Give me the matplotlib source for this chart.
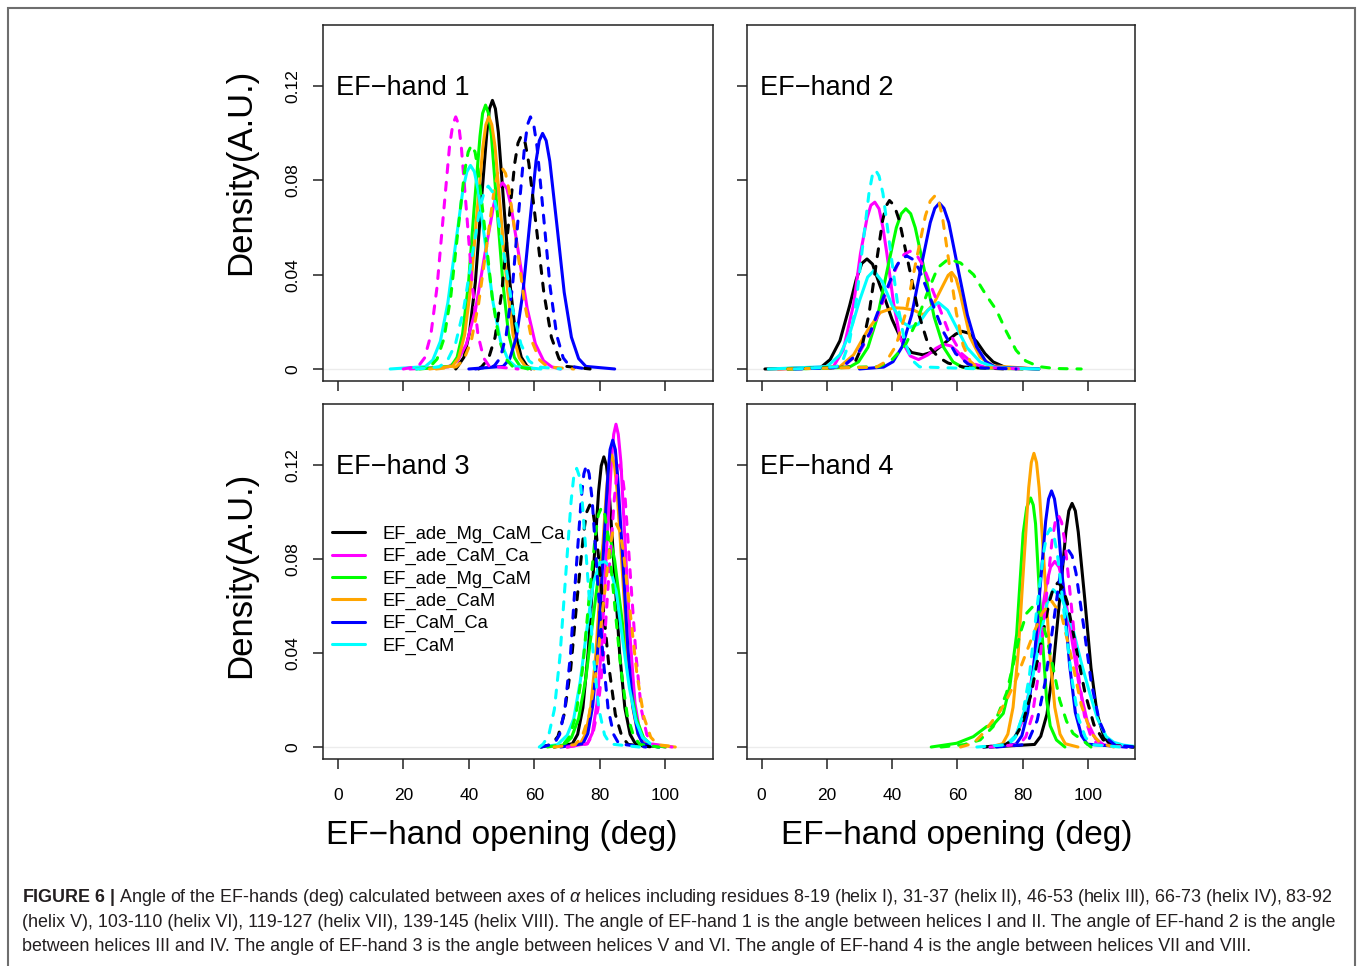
import matplotlib
matplotlib.use("Agg")
import matplotlib.pyplot as plt
from matplotlib.patches import Rectangle

plt.rcParams['font.family'] = ['Liberation Sans', 'DejaVu Sans']
plt.rcParams['mathtext.fontset'] = 'custom'
plt.rcParams['mathtext.rm'] = 'Liberation Sans'
plt.rcParams['mathtext.bf'] = 'Liberation Sans:bold'
plt.rcParams['mathtext.it'] = 'Liberation Sans:italic'

# series order: legend names and R colours
series = ["EF_ade_Mg_CaM_Ca", "EF_ade_CaM_Ca", "EF_ade_Mg_CaM", "EF_ade_CaM", "EF_CaM_Ca", "EF_CaM"]
colors = ["black", "#ff00ff", "#00ff00", "#ffa500", "#0000ff", "#00ffff"]

xticks = [0, 20, 40, 60, 80, 100]
yticks = [0, 0.04, 0.08, 0.12]
ytick_labels = ["0", "0.04", "0.08", "0.12"]
titles = ["EF\u2212hand 1", "EF\u2212hand 2", "EF\u2212hand 3", "EF\u2212hand 4"]

# ---- EF-hand 1: density curves (angle in deg, density) ----
h1_solid_x = [
    [36, 36.7, 38.5, 40.2, 42.0, 43.7, 45.5, 46.3, 47.2, 48.1, 49.0, 50.7, 52.5, 54.2, 56.0, 57.7, 59.0],
    [22, 33.8, 36.6, 39.3, 42.1, 44.8, 47.6, 48.9, 50.3, 51.6, 52.8, 55.3, 57.8, 60.3, 62.8, 65.3, 68],
    [25, 34.6, 36.4, 38.1, 39.9, 41.6, 43.4, 44.2, 45.1, 46.0, 46.9, 48.6, 50.4, 52.1, 53.9, 55.6, 58],
    [28, 35.0, 36.9, 38.7, 40.6, 42.4, 44.3, 45.2, 46.1, 47.0, 48.0, 49.8, 51.7, 53.5, 55.4, 57.2, 60],
    [40, 50.5, 52.5, 54.5, 56.5, 58.5, 60.5, 61.5, 62.5, 63.6, 64.7, 66.9, 69.1, 71.3, 73.5, 75.7, 84.5],
    [16, 26.7, 29.0, 31.3, 33.6, 35.9, 38.2, 39.4, 40.5, 41.7, 42.8, 45.1, 47.4, 49.7, 52.0, 54.3, 62],
]
h1_solid_y = [
    [0, 0.0013, 0.005, 0.0154, 0.037, 0.0692, 0.1005, 0.1105, 0.114, 0.1105, 0.1005, 0.0692, 0.037, 0.0154, 0.005, 0.0013, 0],
    [0, 0.0009, 0.0035, 0.0107, 0.0257, 0.048, 0.0697, 0.0766, 0.079, 0.0766, 0.0697, 0.048, 0.0257, 0.0107, 0.0035, 0.0009, 0],
    [0, 0.0012, 0.0049, 0.0151, 0.0364, 0.068, 0.0988, 0.1085, 0.112, 0.1085, 0.0988, 0.068, 0.0364, 0.0151, 0.0049, 0.0012, 0],
    [0, 0.0012, 0.0047, 0.0144, 0.0348, 0.0649, 0.0944, 0.1037, 0.107, 0.1037, 0.0944, 0.0649, 0.0348, 0.0144, 0.0047, 0.0012, 0],
    [0, 0.0011, 0.0044, 0.0135, 0.0325, 0.0607, 0.0882, 0.0969, 0.1, 0.0969, 0.0882, 0.0607, 0.0325, 0.0135, 0.0044, 0.0011, 0],
    [0, 0.001, 0.0038, 0.0117, 0.0281, 0.0524, 0.0762, 0.0837, 0.0864, 0.0837, 0.0762, 0.0524, 0.0281, 0.0117, 0.0038, 0.001, 0],
]
h1_dash_x = [
    [43, 44, 46, 48, 50, 52, 54, 55.0, 56, 57.2, 58.3, 60.6, 62.9, 65.2, 67.5, 69.8, 77],
    [20, 24.6, 26.5, 28.4, 30.3, 32.2, 34.1, 35.1, 36.0, 36.9, 37.7, 39.4, 41.1, 42.8, 44.5, 46.2, 55],
    [24, 28.2, 30.3, 32.4, 34.5, 36.6, 38.7, 39.8, 40.8, 41.9, 42.9, 45.0, 47.1, 49.2, 51.3, 53.4, 60],
    [30, 36.1, 38.4, 40.7, 43.0, 45.4, 47.7, 48.8, 50.0, 51.2, 52.3, 54.7, 57.0, 59.3, 61.6, 64.0, 72],
    [42, 47.7, 49.6, 51.4, 53.3, 55.1, 57.0, 57.9, 58.8, 59.8, 60.8, 62.8, 64.8, 66.8, 68.8, 70.8, 76],
    [24, 30.9, 33.4, 35.9, 38.4, 40.9, 43.4, 44.7, 45.9, 47.2, 48.4, 50.9, 53.4, 55.9, 58.4, 60.9, 68],
]
h1_dash_y = [
    [0, 0.0011, 0.0044, 0.0134, 0.0322, 0.0601, 0.0873, 0.0959, 0.099, 0.0959, 0.0873, 0.0601, 0.0322, 0.0134, 0.0044, 0.0011, 0],
    [0, 0.0012, 0.0047, 0.0144, 0.0348, 0.0649, 0.0944, 0.1037, 0.107, 0.1037, 0.0944, 0.0649, 0.0348, 0.0144, 0.0047, 0.0012, 0],
    [0, 0.001, 0.0042, 0.0128, 0.0309, 0.0577, 0.0838, 0.0921, 0.095, 0.0921, 0.0838, 0.0577, 0.0309, 0.0128, 0.0042, 0.001, 0],
    [0, 0.0009, 0.0038, 0.0116, 0.0279, 0.052, 0.0756, 0.083, 0.0857, 0.083, 0.0756, 0.052, 0.0279, 0.0116, 0.0038, 0.0009, 0],
    [0, 0.0012, 0.0047, 0.0144, 0.0348, 0.0649, 0.0944, 0.1037, 0.107, 0.1037, 0.0944, 0.0649, 0.0348, 0.0144, 0.0047, 0.0012, 0],
    [0, 0.0009, 0.0034, 0.0105, 0.0252, 0.0471, 0.0684, 0.0752, 0.0776, 0.0752, 0.0684, 0.0471, 0.0252, 0.0105, 0.0034, 0.0009, 0],
]

# ---- EF-hand 2 ----
h2_solid_x = [
    [1, 18, 21, 24, 27, 29, 30.7, 32.3, 34, 36, 38, 40, 43.5, 46, 49.5, 53, 57, 59.5, 61.4, 63.5, 66, 68.5, 71, 75, 85],
    [5, 22, 25, 28.2, 30.3, 32.3, 33.5, 34.7, 36, 37.2, 38.4, 40.5, 42.5, 45.6, 48.1, 51, 53.5, 55.8, 58, 60, 62, 65, 80],
    [10, 26.8, 29.7, 32.6, 35.5, 38.4, 41.3, 42.8, 44.2, 45.7, 47.1, 50.0, 52.9, 55.8, 58.7, 61.6, 80],
    [5, 24, 28.2, 32.3, 36.4, 40.5, 43.5, 46.6, 49.6, 52.7, 55.8, 57.2, 58.3, 59.6, 60.9, 63.9, 67, 71, 85],
    [30, 37.4, 40.3, 43.1, 46.0, 48.8, 51.7, 53.1, 54.5, 55.9, 57.4, 60.2, 63.1, 65.9, 68.8, 71.6, 85],
    [2, 20, 24, 27, 30, 32.5, 34.4, 37, 40, 43, 45.6, 48, 51, 54.2, 57, 60, 63, 67, 72, 85],
]
h2_solid_y = [
    [0, 0.0005, 0.004, 0.012, 0.027, 0.038, 0.0448, 0.0467, 0.0445, 0.0365, 0.029, 0.021, 0.0105, 0.007, 0.006, 0.0075, 0.012, 0.0148, 0.016, 0.0152, 0.0115, 0.0065, 0.003, 0.0005, 0],
    [0, 0.001, 0.008, 0.0275, 0.049, 0.064, 0.0695, 0.0708, 0.068, 0.06, 0.049, 0.0275, 0.013, 0.0055, 0.004, 0.006, 0.0088, 0.0105, 0.0098, 0.0075, 0.004, 0.001, 0],
    [0, 0.0007, 0.003, 0.0092, 0.0221, 0.0413, 0.06, 0.0659, 0.068, 0.0659, 0.06, 0.0413, 0.0221, 0.0092, 0.003, 0.0007, 0],
    [0, 0.001, 0.006, 0.016, 0.024, 0.026, 0.0258, 0.025, 0.023, 0.0275, 0.036, 0.0398, 0.041, 0.0385, 0.032, 0.0135, 0.005, 0.0013, 0],
    [0, 0.0008, 0.0031, 0.0095, 0.0229, 0.0427, 0.0621, 0.0682, 0.0704, 0.0682, 0.0621, 0.0427, 0.0229, 0.0095, 0.0031, 0.0008, 0],
    [0, 0.001, 0.006, 0.015, 0.029, 0.039, 0.0417, 0.037, 0.027, 0.02, 0.0177, 0.019, 0.025, 0.0282, 0.025, 0.017, 0.009, 0.003, 0.0005, 0],
]
h2_dash_x = [
    [8, 26.6, 28.7, 30.8, 32.9, 35.0, 37.1, 38.2, 39.2, 40.7, 42.2, 45.2, 48.2, 51.2, 54.2, 57.2, 62, 75],
    [10, 22.1, 26.0, 29.9, 33.8, 37.7, 41.6, 43.6, 45.5, 47.5, 49.4, 53.3, 57.2, 61.1, 65.0, 68.9, 80],
    [8, 36, 40, 44, 47.5, 51, 54, 57.3, 61, 65, 69, 72, 75, 78, 81, 85, 90, 98],
    [8, 35.2, 38.2, 41.2, 44.2, 47.2, 50.2, 51.7, 53.2, 54.3, 55.4, 57.5, 59.7, 61.8, 64.0, 66.1, 78],
    [10, 22, 25.8, 29.5, 33.3, 37, 40.8, 42.6, 44.5, 46.4, 48.3, 52, 55.8, 59.5, 63.3, 67, 78],
    [10, 22.9, 24.9, 26.9, 28.9, 30.9, 32.9, 33.9, 34.9, 36.0, 37.2, 39.4, 41.7, 43.9, 46.2, 48.4, 68],
]
h2_dash_y = [
    [0, 0.0008, 0.0031, 0.0097, 0.0232, 0.0434, 0.0631, 0.0693, 0.0715, 0.0693, 0.0631, 0.0434, 0.0232, 0.0097, 0.005, 0.0025, 0.0008, 0],
    [0, 0.0006, 0.0022, 0.0068, 0.0163, 0.0304, 0.0441, 0.0485, 0.05, 0.0485, 0.0441, 0.0304, 0.0163, 0.0068, 0.0022, 0.0006, 0],
    [0, 0.001, 0.004, 0.01, 0.02, 0.033, 0.043, 0.0467, 0.045, 0.040, 0.031, 0.025, 0.016, 0.008, 0.0034, 0.001, 0.0002, 0],
    [0, 0.0008, 0.0032, 0.0099, 0.0239, 0.0447, 0.0649, 0.0713, 0.0736, 0.0713, 0.0649, 0.0447, 0.0239, 0.0099, 0.0032, 0.0008, 0],
    [0, 0.0005, 0.0021, 0.0065, 0.0156, 0.0291, 0.0423, 0.0465, 0.048, 0.0465, 0.0423, 0.0291, 0.0156, 0.0065, 0.0021, 0.0005, 0],
    [0, 0.0009, 0.0037, 0.0114, 0.0275, 0.0513, 0.0745, 0.0819, 0.0845, 0.0819, 0.0745, 0.0513, 0.0275, 0.0114, 0.0037, 0.0009, 0],
]

# ---- EF-hand 3 ----
h3_solid_x = [
    [66, 71.6, 73.2, 74.8, 76.4, 78.0, 79.6, 80.4, 81.2, 82.0, 82.8, 84.4, 86.0, 87.6, 89.2, 90.8, 98],
    [70, 76.2, 77.7, 79.1, 80.6, 82.0, 83.5, 84.2, 84.9, 85.6, 86.4, 87.8, 89.3, 90.7, 92.2, 93.6, 100],
    [66, 69.1, 71.3, 73.5, 75.7, 77.9, 80.1, 81.2, 82.3, 83.4, 84.5, 86.7, 88.9, 91.1, 93.3, 95.5, 100],
    [70, 74.0, 75.6, 77.2, 78.8, 80.4, 82.0, 82.8, 83.6, 84.4, 85.2, 86.8, 88.4, 90.0, 91.6, 93.2, 103],
    [68, 74.8, 76.3, 77.8, 79.4, 80.9, 82.4, 83.1, 83.9, 84.7, 85.4, 87.0, 88.5, 90.0, 91.6, 93.1, 98],
    [62, 67, 70, 72, 74, 76, 78, 80, 81.5, 83, 85, 87, 89, 91, 93, 96, 98],
]
h3_solid_y = [
    [0, 0.0014, 0.0054, 0.0167, 0.0401, 0.075, 0.1089, 0.1197, 0.1235, 0.1197, 0.1089, 0.075, 0.0401, 0.0167, 0.0054, 0.0014, 0],
    [0, 0.0015, 0.006, 0.0185, 0.0447, 0.0834, 0.1212, 0.1331, 0.1374, 0.1331, 0.1212, 0.0834, 0.0447, 0.0185, 0.006, 0.0015, 0],
    [0, 0.001, 0.004, 0.0122, 0.0293, 0.0546, 0.0794, 0.0872, 0.09, 0.0872, 0.0794, 0.0546, 0.0293, 0.0122, 0.004, 0.001, 0],
    [0, 0.0014, 0.0055, 0.0168, 0.0404, 0.0755, 0.1096, 0.1204, 0.1243, 0.1204, 0.1096, 0.0755, 0.0404, 0.0168, 0.0055, 0.0014, 0],
    [0, 0.0014, 0.0057, 0.0176, 0.0424, 0.0793, 0.1152, 0.1266, 0.1306, 0.1266, 0.1152, 0.0793, 0.0424, 0.0176, 0.0057, 0.0014, 0],
    [0, 0.001, 0.005, 0.012, 0.028, 0.05, 0.07, 0.0785, 0.0789, 0.077, 0.066, 0.045, 0.025, 0.011, 0.004, 0.0008, 0],
]
h3_dash_x = [
    [62, 65.2, 67.2, 69.1, 71.1, 73.0, 75.0, 75.9, 76.9, 77.9, 78.9, 80.8, 82.8, 84.7, 86.7, 88.6, 96],
    [70, 76.1, 77.8, 79.4, 81.1, 82.7, 84.4, 85.2, 86.0, 86.8, 87.7, 89.3, 91.0, 92.6, 94.3, 95.9, 102],
    [64, 68.8, 70.8, 72.7, 74.7, 76.6, 78.6, 79.5, 80.5, 81.5, 82.5, 84.4, 86.4, 88.3, 90.3, 92.2, 98],
    [66, 72.4, 74.5, 76.6, 78.7, 80.8, 82.9, 84.0, 85.0, 86.0, 87.1, 89.2, 91.3, 93.4, 95.5, 97.6, 103.5],
    [62, 66.0, 67.7, 69.3, 71.0, 72.6, 74.3, 75.1, 75.9, 76.7, 77.6, 79.2, 80.9, 82.5, 84.2, 85.8, 94],
    [61.5, 62.7, 64.4, 66.1, 67.8, 69.5, 71.2, 72.0, 72.9, 73.8, 74.6, 76.3, 78.0, 79.7, 81.4, 83.1, 92],
]
h3_dash_y = [
    [0, 0.0011, 0.0045, 0.0139, 0.0335, 0.0625, 0.0908, 0.0998, 0.103, 0.0998, 0.0908, 0.0625, 0.0335, 0.0139, 0.0045, 0.0011, 0],
    [0, 0.0013, 0.0053, 0.0162, 0.039, 0.0728, 0.1058, 0.1163, 0.12, 0.1163, 0.1058, 0.0728, 0.039, 0.0162, 0.0053, 0.0013, 0],
    [0, 0.0011, 0.0045, 0.0138, 0.0332, 0.0619, 0.09, 0.0988, 0.102, 0.0988, 0.09, 0.0619, 0.0332, 0.0138, 0.0045, 0.0011, 0],
    [0, 0.001, 0.0042, 0.0128, 0.0309, 0.0577, 0.0838, 0.0921, 0.095, 0.0921, 0.0838, 0.0577, 0.0309, 0.0128, 0.0042, 0.001, 0],
    [0, 0.0013, 0.0053, 0.0162, 0.039, 0.0728, 0.1058, 0.1163, 0.12, 0.1163, 0.1058, 0.0728, 0.039, 0.0162, 0.0053, 0.0013, 0],
    [0, 0.0013, 0.0052, 0.016, 0.0385, 0.072, 0.1046, 0.1149, 0.1186, 0.1149, 0.1046, 0.072, 0.0385, 0.016, 0.0052, 0.0013, 0],
]

# ---- EF-hand 4 ----
h4_solid_x = [
    [70, 83.7, 85.6, 87.5, 89.4, 91.4, 93.3, 94.2, 95.2, 96.2, 97.1, 99.1, 101.0, 102.9, 104.9, 106.8, 114],
    [68, 74.9, 77.4, 79.9, 82.4, 84.9, 87.4, 88.6, 89.9, 91.2, 92.4, 94.9, 97.4, 99.9, 102.4, 104.9, 112],
    [52, 59.8, 64.9, 69, 71, 74.1, 76.1, 78.2, 80.2, 81.3, 82.5, 83.3, 84, 85.3, 86.5, 87.4, 88.5, 90.4, 93],
    [70, 73.9, 75.5, 77.1, 78.7, 80.3, 81.9, 82.7, 83.5, 84.3, 85.1, 86.7, 88.3, 89.9, 91.5, 93.1, 97],
    [70, 78.0, 79.8, 81.6, 83.5, 85.3, 87.1, 88.0, 88.9, 89.8, 90.8, 92.6, 94.4, 96.2, 98.1, 99.9, 112],
    [68.5, 75, 78, 81, 83.3, 85.3, 87.5, 89.4, 92, 95.5, 98, 100.6, 103, 105.7, 108, 111, 116],
]
h4_solid_y = [
    [0, 0.0011, 0.0046, 0.014, 0.0337, 0.0629, 0.0915, 0.1005, 0.1037, 0.1005, 0.0915, 0.0629, 0.0337, 0.014, 0.0046, 0.0011, 0],
    [0, 0.0009, 0.0035, 0.0107, 0.0257, 0.048, 0.0697, 0.0766, 0.079, 0.0766, 0.0697, 0.048, 0.0257, 0.0107, 0.0035, 0.0009, 0],
    [0, 0.0016, 0.0044, 0.0087, 0.0094, 0.0143, 0.0257, 0.048, 0.091, 0.102, 0.106, 0.103, 0.095, 0.0626, 0.038, 0.02, 0.009, 0.003, 0],
    [0, 0.0014, 0.0055, 0.0169, 0.0406, 0.0759, 0.1103, 0.1211, 0.125, 0.1211, 0.1103, 0.0759, 0.0406, 0.0169, 0.0055, 0.0014, 0],
    [0, 0.0012, 0.0048, 0.0147, 0.0354, 0.0662, 0.0961, 0.1056, 0.109, 0.1056, 0.0961, 0.0662, 0.0354, 0.0147, 0.0048, 0.0012, 0],
    [0, 0.001, 0.005, 0.017, 0.031, 0.0455, 0.061, 0.067, 0.0635, 0.050, 0.036, 0.023, 0.012, 0.0044, 0.002, 0.0008, 0],
]
h4_dash_x = [
    [68, 74.4, 77.2, 79.9, 82.7, 85.4, 88.2, 89.5, 90.9, 92.3, 93.7, 96.4, 99.2, 101.9, 104.7, 107.4, 114],
    [70, 79, 81, 83, 85, 87, 89, 90, 91, 92, 93, 95, 97, 99, 101, 103, 112],
    [55, 62, 67, 71, 75.1, 77.3, 79.2, 81.3, 83.3, 85.3, 87.5, 89.5, 91.4, 93.5, 95.5, 99.6, 101],
    [61, 65, 68, 71, 73, 75.1, 77.5, 80, 83.3, 86, 89, 92, 95, 98, 101, 104, 108],
    [72, 79.8, 82.1, 84.5, 86.9, 89.3, 91.6, 92.8, 94.0, 95.2, 96.4, 98.8, 101.1, 103.5, 105.9, 108.3, 114],
    [66, 75.6, 77.8, 79.9, 82.1, 84.2, 86.4, 87.4, 88.5, 89.6, 90.7, 92.8, 95.0, 97.1, 99.3, 101.4, 110],
]
h4_dash_y = [
    [0, 0.0008, 0.0031, 0.0095, 0.0228, 0.0425, 0.0617, 0.0678, 0.07, 0.0678, 0.0617, 0.0425, 0.0228, 0.0095, 0.0031, 0.0008, 0],
    [0, 0.0011, 0.0043, 0.0133, 0.0321, 0.0599, 0.0871, 0.0956, 0.0987, 0.0956, 0.0871, 0.0599, 0.0321, 0.0133, 0.0043, 0.0011, 0],
    [0, 0.001, 0.003, 0.0087, 0.023, 0.036, 0.048, 0.057, 0.060, 0.057, 0.046, 0.033, 0.02, 0.011, 0.0058, 0.0016, 0],
    [0, 0.0016, 0.006, 0.0115, 0.015, 0.02, 0.027, 0.036, 0.048, 0.057, 0.062, 0.056, 0.038, 0.018, 0.006, 0.0015, 0],
    [0, 0.0009, 0.0037, 0.0113, 0.0273, 0.051, 0.0741, 0.0814, 0.084, 0.0814, 0.0741, 0.051, 0.0273, 0.0113, 0.0037, 0.0009, 0],
    [0, 0.001, 0.0041, 0.0126, 0.0302, 0.0565, 0.082, 0.0901, 0.093, 0.0901, 0.082, 0.0565, 0.0302, 0.0126, 0.0041, 0.001, 0],
]

caption = [
    r"$\mathbf{FIGURE\ 6\ |}$ Angle of the EF-hands (deg) calculated between axes of $\alpha$ helices including residues 8-19 (helix I), 31-37 (helix II), 46-53 (helix III), 66-73 (helix IV), 83-92",
    "(helix V), 103-110 (helix VI), 119-127 (helix VII), 139-145 (helix VIII). The angle of EF-hand 1 is the angle between helices I and II. The angle of EF-hand 2 is the angle",
    "between helices III and IV. The angle of EF-hand 3 is the angle between helices V and VI. The angle of EF-hand 4 is the angle between helices VII and VIII.",
]

W, H = 1357, 966
fig = plt.figure(figsize=(W / 100, H / 100), dpi=100)


def add_panel(x0, y0, x1, y1):
    # box given in pixels from the top-left corner
    return fig.add_axes([x0 / W, 1 - y1 / H, (x1 - x0) / W, (y1 - y0) / H])


boxes = [(323, 25, 713, 381), (747, 25, 1135, 381), (323, 404, 713, 759), (747, 404, 1135, 759)]
panels = [
    (h1_solid_x, h1_solid_y, h1_dash_x, h1_dash_y),
    (h2_solid_x, h2_solid_y, h2_dash_x, h2_dash_y),
    (h3_solid_x, h3_solid_y, h3_dash_x, h3_dash_y),
    (h4_solid_x, h4_solid_y, h4_dash_x, h4_dash_y),
]

for i, (box, data) in enumerate(zip(boxes, panels)):
    ax = add_panel(*box)
    sx, sy, dx, dy = data
    ax.axhline(0, color='#ececec', lw=1, zorder=0)
    lines = []
    for k in range(6):
        ln, = ax.plot(sx[k], sy[k], color=colors[k], lw=2.2, solid_capstyle='round')
        lines.append(ln)
    for k in range(6):
        ax.plot(dx[k], dy[k], color=colors[k], lw=2.2, dashes=(2.6, 3.2), dash_capstyle='round')

    ax.set_xlim(-4.5, 114.5)
    ax.set_ylim(-0.0051, 0.146)
    ax.set_xticks(xticks)
    ax.set_yticks(yticks)
    ax.set_yticklabels(ytick_labels, rotation=90, va='center')
    ax.tick_params(direction='out', length=7.2, width=1.1, labelsize=12.5, color='#222222')
    ax.tick_params(axis='x', pad=13.5, labelbottom=(i >= 2))
    ax.tick_params(axis='y', pad=9, labelleft=(i % 2 == 0))
    for sp in ax.spines.values():
        sp.set_linewidth(1.1)
        sp.set_color('#222222')
    ax.text(-0.6, 0.1162, titles[i], fontsize=19.5, va='baseline', ha='left')

    if i == 2:
        ax.legend(lines, series, loc='upper left', bbox_to_anchor=(0.023, 0.657),
                  frameon=False, fontsize=13.2, handlelength=1.8, handletextpad=0.93,
                  labelspacing=0.28, borderpad=0, borderaxespad=0)

# axis titles
for yc in (172, 575):
    fig.text(241 / W, 1 - yc / H, "Density(A.U.)", rotation=90, fontsize=25,
             ha='center', va='center')
for xc in (502, 957):
    fig.text(xc / W, 1 - 844 / H, "EF\u2212hand opening (deg)", fontsize=24,
             ha='center', va='baseline')

# caption, sized so the first line spans the frame width
cap_texts = []
for line, base in zip(caption, (902, 927, 951)):
    cap_texts.append(fig.text(22 / W, 1 - base / H, line, fontsize=11, color='#231f20',
                              ha='left', va='baseline'))
fig.canvas.draw()
width = cap_texts[0].get_window_extent().width
for t in cap_texts:
    t.set_fontsize(11 * 1308 / width)

# grey frame round the figure
fig.patches.append(Rectangle((8 / W, -0.1), (1355 - 8) / W, 1.1 - 8 / H,
                             transform=fig.transFigure, fill=False,
                             edgecolor='#6e6e6e', lw=1.5))

fig.savefig("out.png", dpi=100)
